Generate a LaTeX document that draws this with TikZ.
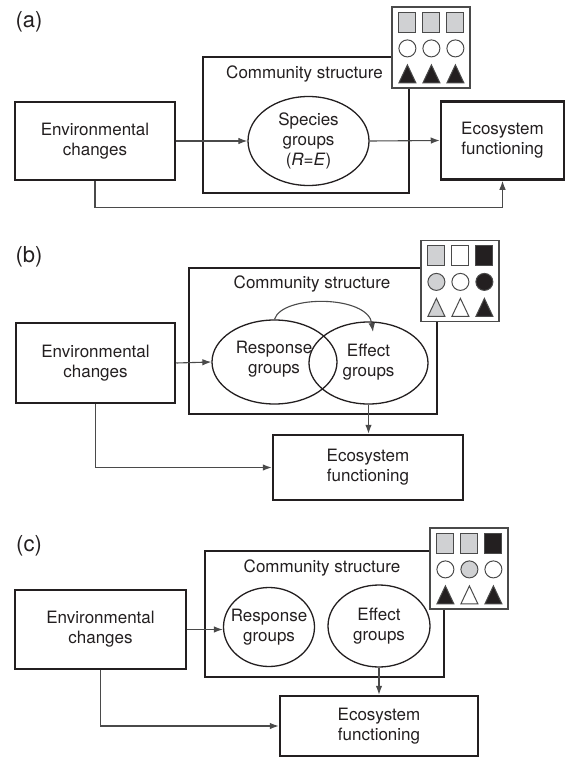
\documentclass[tikz,border=0pt]{standalone}
\usepackage{fontspec}
\setmainfont{TeX Gyre Heros}
\usetikzlibrary{arrows.meta,positioning,shapes.geometric}
\definecolor{ink}{HTML}{231F20}
\definecolor{lite}{HTML}{D0D1D3}
\definecolor{wire}{HTML}{4A4A4A}
\tikzset{
    %Define standard arrow tip
    >={Latex[length=9pt,width=6.5pt]},
    box/.style={
      rectangle,
      draw=ink, line width=2.5pt,
      inner sep=0pt,
      text=ink,
      align=center},
    grp/.style={
      ellipse,
      draw=ink, line width=1.3pt,
      inner sep=0pt},
    txt/.style={
      text=ink,
      inner sep=0pt,
      align=center},
    panel/.style={
      text=ink,
      inner sep=0pt,
      font=\fontsize{22}{26}\selectfont},
    legend/.style={
      rectangle,
      draw=wire, line width=1.2pt,
      fill=white,
      minimum width=78pt,
      minimum height=81pt},
    link/.style={->, draw=wire, line width=1.1pt},
    icon/.style={draw=wire, line width=1pt},
    sq/.pic={\path[pic actions] (-8.5,-10) rectangle (8.5,10);},
    dot/.pic={\path[pic actions] (0,0) circle [radius=8.5];},
    tri/.pic={\path[pic actions] (-8.5,9) -- (8.5,9) -- (0,-9) -- cycle;},
}
\begin{document}
\begin{tikzpicture}[x=1pt, y=-1pt, font=\fontsize{17}{20}\selectfont]
    \useasboundingbox (0,0) rectangle (570,760);

    % (a) species groups with R=E
    \node (labA) [panel] at (29,22) {(a)};
    \node (comA) [box, minimum width=206pt, minimum height=136pt] at (306,125) {};
    \node (comAtxt) [txt] at (304.5,74) {Community structure};
    \node (envA) [box, minimum width=160pt, minimum height=78pt] at (95,141)
          {Environmental\\changes};
    \node (ellA) [grp, minimum width=121pt, minimum height=89pt] at (308.5,141) {};
    \node (ellAtxt) [txt] at (ellA) {Species\\groups\\(\textit{R}=\textit{E})};
    \node (ecoA) [box, minimum width=123pt, minimum height=78pt] at (502.5,140.5)
          {Ecosystem\\functioning};
    \node (iconA) [legend] at (431,47.5) {};
    \foreach \i/\fs/\fd/\ft in {0/lite/white/ink, 1/lite/white/ink, 2/lite/white/ink} {
      \pic [icon, fill=\fs] at ([shift={(16+24*\i,16)}]iconA.north west) {sq};
      \pic [icon, fill=\fd] at ([shift={(16+24*\i,42)}]iconA.north west) {dot};
      \pic [icon, fill=\ft] at ([shift={(16+24*\i,67.5)}]iconA.north west) {tri};
    }
    \draw [link] (envA) -- (ellA);
    \draw [link] (ellA.east) -- (ecoA.west);
    \draw [link] (envA.south) -- ++(0,26) -| (ecoA.south);

    % (b) overlapping response and effect groups
    \node (labB) [panel] at (29,257) {(b)};
    \node (comB) [box, minimum width=248pt, minimum height=146pt] at (313,341) {};
    \node (comBtxt) [txt] at (312,284) {Community structure};
    \node (envB) [box, minimum width=159pt, minimum height=80pt] at (95.5,363)
          {Environmental\\changes};
    \node (respB) [grp, minimum width=125pt, minimum height=84pt] at (274.5,362) {};
    \node (effB) [grp, minimum width=119pt, minimum height=82pt] at (368.5,363) {};
    \node (respBtxt) [txt] at (274,359.5) {Response\\groups};
    \node (effBtxt) [txt] at (368.5,362.5) {Effect\\groups};
    \coordinate (effin) at (373,332);
    \node (ecoB) [box, minimum width=190pt, minimum height=65pt] at (368,467.5)
          {Ecosystem\\functioning};
    \node (iconB) [legend] at (460,281) {};
    \foreach \i/\fs in {0/lite, 1/white, 2/ink} {
      \pic [icon, fill=\fs] at ([shift={(16+24*\i,16)}]iconB.north west) {sq};
      \pic [icon, fill=\fs] at ([shift={(16+24*\i,42)}]iconB.north west) {dot};
      \pic [icon, fill=\fs] at ([shift={(16+24*\i,67.5)}]iconB.north west) {tri};
    }
    \draw [link] (envB.east) -- (respB.west);
    \draw [link] (respB.north) .. controls +(7.5,-25) and +(-5,-37) .. (effin);
    \draw [link] (effB.south) -- (effB.south |- ecoB.north);
    \draw [link] (envB.south) |- (ecoB.west);

    % (c) separate response and effect groups
    \node (labC) [panel] at (29,546) {(c)};
    \node (comC) [box, minimum width=239pt, minimum height=126pt] at (324.5,614) {};
    \node (comCtxt) [txt] at (322,568) {Community structure};
    \node (envC) [box, minimum width=171pt, minimum height=79pt] at (100.5,629.5)
          {Environmental\\changes};
    \node (respC) [grp, minimum width=91pt, minimum height=79pt] at (269,627) {};
    \node (effC) [grp, minimum width=102pt, minimum height=82pt] at (379,626) {};
    \node (respCtxt) [txt] at (respC) {Response\\groups};
    \node (effCtxt) [txt] at (effC) {Effect\\groups};
    \node (ecoC) [box, minimum width=198pt, minimum height=60pt] at (379,726)
          {Ecosystem\\functioning};
    \node (iconC) [legend] at (469,568.5) {};
    \foreach \i/\fs/\fd/\ft in {0/lite/white/ink, 1/lite/lite/white, 2/ink/white/ink} {
      \pic [icon, fill=\fs] at ([shift={(16+24*\i,16)}]iconC.north west) {sq};
      \pic [icon, fill=\fd] at ([shift={(16+24*\i,42)}]iconC.north west) {dot};
      \pic [icon, fill=\ft] at ([shift={(16+24*\i,67.5)}]iconC.north west) {tri};
    }
    \draw [link] (envC.east) -- (envC.east -| respC.west);
    \draw [link] (effC.south) -- (effC.south |- ecoC.north);
    \draw [link] (envC.south) |- (ecoC.west);
\end{tikzpicture}
\end{document}
